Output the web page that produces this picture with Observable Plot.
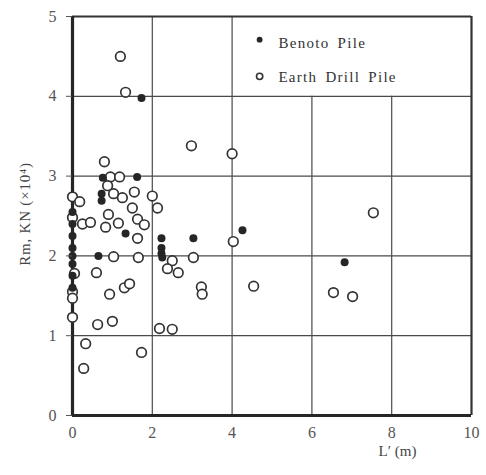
<!DOCTYPE html>
<html><head><meta charset="utf-8">
<script src="https://cdn.jsdelivr.net/npm/d3@7"></script>
<script src="https://cdn.jsdelivr.net/npm/@observablehq/plot@0.6"></script>
<style>
body{margin:0;background:#fff}
#chart svg{display:block}
</style>
</head><body><div id="chart"></div>
<script>
// Benoto Pile (filled)
const benotoX = [1.73, 0.76, 1.62, 0.73, 0.73, 1.33, 2.23, 2.23, 2.23, 2.25, 3.03, 4.26, 0.65, 6.82, 0, 0, 0, 0, 0, 0, 0, 0];
const benotoY = [3.98, 2.98, 2.99, 2.78, 2.69, 2.28, 2.22, 2.10, 2.03, 1.98, 2.22, 2.32, 2.00, 1.92, 2.55, 2.40, 2.25, 2.10, 2.00, 1.90, 1.75, 1.60];
// Earth Drill Pile (open)
const earthX = [1.20, 1.33, 2.98, 4.00, 0.80, 0.95, 1.18, 0.88, 1.03, 1.25, 1.55, 2.00, 2.13, 1.50, 0.00, 0.18, 0.90, 0.00, 0.25, 0.45, 0.83, 1.15, 1.63, 1.80, 1.63, 4.03, 1.03, 1.65, 2.50, 2.38, 2.65, 3.03, 3.23, 3.25, 0.60, 0.93, 1.30, 1.43, 0.63, 1.00, 2.18, 2.50, 0.33, 0.28, 1.73, 4.54, 6.54, 7.02, 7.54, 0.05, 0.00, 0.00, 0.00];
const earthY = [4.50, 4.05, 3.38, 3.28, 3.18, 2.99, 2.99, 2.88, 2.78, 2.73, 2.80, 2.75, 2.60, 2.60, 2.74, 2.68, 2.52, 2.48, 2.40, 2.42, 2.36, 2.41, 2.46, 2.39, 2.22, 2.18, 1.99, 1.98, 1.94, 1.84, 1.79, 1.98, 1.61, 1.52, 1.79, 1.52, 1.60, 1.65, 1.14, 1.18, 1.09, 1.08, 0.90, 0.59, 0.79, 1.62, 1.54, 1.49, 2.54, 1.78, 1.55, 1.47, 1.23];
const xTicks = [0, 2, 4, 6, 8, 10];
const yTicks = [0, 1, 2, 3, 4, 5];
const gridYValues = [1, 2, 3, 4];
const gridXValues = [2, 4, 6, 8];
const gridXTops = [5, 5, 4, 4];
const legendLabels = ["Benoto Pile", "Earth Drill Pile"];
const xLabel = "L′ (m)";
const yLabel = "Rm, KN (×10⁴)";

const benoto = benotoX.map((x, i) => ({x, y: benotoY[i]}));
const earth = earthX.map((x, i) => ({x, y: earthY[i]}));
const gridX = gridXValues.map((x, i) => ({x, top: gridXTops[i]}));
const legend = legendLabels.map((label, i) => ({label, i}));

const ink = "#262626";
const plot = Plot.plot({
  width: 486, height: 475,
  marginLeft: 72, marginRight: 15, marginTop: 16, marginBottom: 60,
  x: {domain: [0, 10]},
  y: {domain: [0, 5]},
  style: {fontFamily: "'Liberation Serif', 'DejaVu Serif', serif", fontSize: "15px", background: "#fff", color: "#444"},
  marks: [
    Plot.ruleY(gridYValues, {stroke: "#4a4a4a", strokeWidth: 1.2}),
    Plot.ruleX(gridX, {x: "x", y1: 0, y2: "top", stroke: "#4a4a4a", strokeWidth: 1.2}),
    Plot.ruleX([10], {stroke: "#333", strokeWidth: 2.2}),
    Plot.ruleY([5], {stroke: "#333", strokeWidth: 2.2}),
    Plot.ruleX([0], {stroke: ink, strokeWidth: 3.2}),
    Plot.ruleY([0], {stroke: ink, strokeWidth: 3.2}),
    Plot.dot(earth, {x: "x", y: "y", r: 4.8, stroke: "#333", strokeWidth: 1.7, fill: "white"}),
    Plot.dot(benoto, {x: "x", y: "y", r: 4, fill: ink, stroke: "none"}),
    Plot.axisX({ticks: xTicks, tickSize: 0, tickPadding: 11, label: null, tickFormat: d => d, fill: "#555", fontSize: 16}),
    Plot.axisY({ticks: yTicks, tickSize: 6, tickPadding: 10, label: null, tickFormat: d => d, fill: "#555", stroke: "#555", fontSize: 16}),
    // legend
    Plot.dot(legend, {x: 4.69, y: d => 4.71 - d.i * 0.46, r: d => d.i === 0 ? 4 : 4.5,
      fill: d => d.i === 0 ? ink : "white", stroke: d => d.i === 0 ? "none" : "#333", strokeWidth: 1.6}),
    Plot.text(legend, {x: 5.16, y: d => 4.67 - d.i * 0.43, text: "label", textAnchor: "start", fill: "#333", fontSize: 15}),
    // axis titles
    Plot.text([xLabel], {frameAnchor: "bottom-right", dx: -74, dy: 40, textAnchor: "middle", text: d => d, fill: "#444", fontSize: 15}),
    Plot.text([yLabel], {frameAnchor: "left", dx: -47, dy: -2, rotate: -90, textAnchor: "middle", text: d => d, fill: "#444", fontSize: 15})
  ]
});
document.getElementById("chart").appendChild(plot);
d3.select(plot).selectAll("text").filter(function(){ return /Pile/.test(this.textContent); }).style("letter-spacing", "1.3px").style("word-spacing", "3px");
d3.select(plot).selectAll("text").filter(function(){ return /KN/.test(this.textContent); }).style("letter-spacing", "0.8px");
</script>
</body></html>
